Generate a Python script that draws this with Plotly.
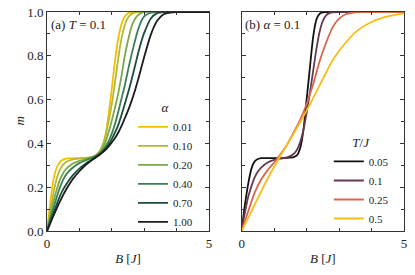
import plotly.graph_objects as go

# ---------------- data ----------------
B_a = [0, 0.1, 0.2, 0.3, 0.4, 0.5, 0.6, 0.8, 1.0, 1.2, 1.4, 1.5, 1.6, 1.7, 1.8, 1.9, 2.0,
       2.1, 2.2, 2.3, 2.4, 2.5, 2.6, 2.7, 2.8, 2.9, 3.0, 3.2, 3.4, 3.6, 3.8, 4.0, 5.0]
alpha_labels = ["0.01", "0.10", "0.20", "0.40", "0.70", "1.00"]
m_a001 = [0, 0.13, 0.235, 0.29, 0.315, 0.326, 0.331, 0.333, 0.333, 0.334, 0.337, 0.343, 0.357,
          0.385, 0.435, 0.53, 0.65, 0.78, 0.88, 0.945, 0.98, 0.995, 0.999, 1, 1, 1, 1, 1, 1, 1, 1, 1, 1]
m_a010 = [0, 0.09, 0.175, 0.24, 0.28, 0.303, 0.316, 0.327, 0.331, 0.334, 0.339, 0.346, 0.36,
          0.385, 0.43, 0.5, 0.58, 0.68, 0.79, 0.88, 0.94, 0.975, 0.99, 0.997, 1, 1, 1, 1, 1, 1, 1, 1, 1]
m_a020 = [0, 0.07, 0.135, 0.19, 0.235, 0.265, 0.285, 0.308, 0.32, 0.328, 0.337, 0.344, 0.355,
          0.375, 0.405, 0.45, 0.505, 0.565, 0.63, 0.71, 0.8, 0.87, 0.93, 0.965, 0.985, 0.995, 1, 1, 1, 1, 1, 1, 1]
m_a040 = [0, 0.055, 0.105, 0.155, 0.2, 0.235, 0.26, 0.29, 0.31, 0.323, 0.336, 0.343, 0.352,
          0.365, 0.385, 0.41, 0.445, 0.49, 0.545, 0.605, 0.665, 0.735, 0.8, 0.86, 0.915, 0.955, 0.98, 0.997, 1, 1, 1, 1, 1]
m_a070 = [0, 0.042, 0.083, 0.122, 0.16, 0.19, 0.215, 0.255, 0.285, 0.308, 0.328, 0.338, 0.348,
          0.36, 0.375, 0.395, 0.42, 0.45, 0.485, 0.53, 0.58, 0.63, 0.685, 0.745, 0.805, 0.86, 0.905, 0.97, 0.995, 1, 1, 1, 1]
m_a100 = [0, 0.035, 0.07, 0.103, 0.135, 0.165, 0.192, 0.238, 0.273, 0.302, 0.325, 0.335, 0.345,
          0.357, 0.37, 0.386, 0.405, 0.425, 0.45, 0.48, 0.515, 0.55, 0.59, 0.635, 0.685, 0.74, 0.795, 0.895, 0.96, 0.99, 0.998, 1, 1]
alpha_colors = ["#f2c000", "#b3b934", "#7aa94a", "#3c7f55", "#1d4c3c", "#1c1c1c"]

T_labels = ["0.05", "0.1", "0.25", "0.5"]
B_b = [0, 0.05, 0.1, 0.2, 0.3, 0.4, 0.5, 0.6, 0.8, 1.0, 1.2, 1.4, 1.6, 1.7, 1.8, 1.9, 2.0,
       2.1, 2.2, 2.3, 2.4, 2.5, 2.6, 2.7, 2.8, 3.0, 4.0, 5.0]
m_T005 = [0, 0.065, 0.12, 0.215, 0.285, 0.318, 0.329, 0.333, 0.333, 0.333, 0.333, 0.334, 0.337,
          0.345, 0.378, 0.46, 0.6, 0.745, 0.885, 0.965, 0.992, 0.999, 1, 1, 1, 1, 1, 1]
m_T010 = [0, 0.045, 0.085, 0.155, 0.205, 0.245, 0.272, 0.29, 0.313, 0.325, 0.331, 0.336, 0.352,
          0.37, 0.405, 0.46, 0.54, 0.63, 0.73, 0.83, 0.91, 0.96, 0.985, 0.995, 0.999, 1, 1, 1]
B_c = [0, 0.2, 0.4, 0.6, 0.8, 1.0, 1.2, 1.4, 1.6, 1.8, 2.0, 2.2, 2.4, 2.6, 2.8, 3.0, 3.2, 3.4, 3.6, 4.0, 5.0]
m_T025 = [0, 0.09, 0.175, 0.235, 0.278, 0.313, 0.352, 0.395, 0.45, 0.508, 0.58, 0.67, 0.775,
          0.86, 0.93, 0.97, 0.99, 0.997, 1, 1, 1]
B_d = [0, 0.4, 0.8, 1.2, 1.6, 2.0, 2.4, 2.8, 3.2, 3.6, 4.0, 4.4, 4.8, 5.0]
m_T050 = [0, 0.12, 0.24, 0.345, 0.445, 0.55, 0.665, 0.78, 0.86, 0.92, 0.955, 0.977, 0.99, 0.994]
T_colors = ["#111111", "#6a3850", "#d6694c", "#f9be16"]

# ---------------- figure ----------------
FONT = "Liberation Serif, Times New Roman, DejaVu Serif, serif"
TXT = "#222222"
fig = go.Figure()

left_series = [m_a001, m_a010, m_a020, m_a040, m_a070, m_a100]
for lab, col, m in zip(alpha_labels, alpha_colors, left_series):
    fig.add_trace(go.Scatter(x=B_a, y=m, mode="lines", name=lab,
                             line=dict(color=col, width=1.8, shape="spline", smoothing=0.6),
                             xaxis="x", yaxis="y", legend="legend", legendgroup=lab))

right_x = [B_b, B_b, B_c, B_d]
right_series = [m_T005, m_T010, m_T025, m_T050]
for lab, col, bx, m in zip(T_labels, T_colors, right_x, right_series):
    fig.add_trace(go.Scatter(x=bx, y=m, mode="lines", name=lab,
                             line=dict(color=col, width=1.8, shape="spline", smoothing=0.6),
                             xaxis="x2", yaxis="y2", legend="legend2", legendgroup="T" + lab))

axis_common = dict(showline=True, linecolor="#333333", linewidth=1, mirror="allticks",
                   ticks="inside", ticklen=4, tickcolor="#333333", tickwidth=1,
                   showgrid=False, zeroline=False, automargin=False,
                   tickfont=dict(family=FONT, size=13, color=TXT))

xa = dict(axis_common, range=[0, 5], tickmode="linear", tick0=0, dtick=5,
          minor=dict(tickmode="linear", tick0=0, dtick=1, ticks="inside", ticklen=3,
                     tickcolor="#333333", showgrid=False),
          title=dict(text="<i>B</i> [<i>J</i>]", font=dict(family=FONT, size=13, color=TXT),
                     standoff=4))
ya = dict(axis_common, range=[0, 1], tickmode="linear", tick0=0, dtick=0.2, tickformat=".1f",
          minor=dict(tickmode="linear", tick0=0, dtick=0.1, ticks="inside", ticklen=3,
                     tickcolor="#333333", showgrid=False))

fig.update_layout(
    width=415, height=275,
    margin=dict(l=0, r=0, t=0, b=0),
    paper_bgcolor="white", plot_bgcolor="white",
    font=dict(family=FONT, size=12, color=TXT),
    xaxis=dict(xa, domain=[0.1133, 0.5036], anchor="y"),
    yaxis=dict(ya, domain=[0.16, 0.956], anchor="x"),
    xaxis2=dict(xa, domain=[0.5824, 0.9735], anchor="y2"),
    yaxis2=dict(ya, domain=[0.16, 0.956], anchor="x2", showticklabels=False),
    legend=dict(x=0.3205, y=0.653, xanchor="left", yanchor="top", bgcolor="rgba(0,0,0,0)",
                font=dict(family=FONT, size=11), itemwidth=30, tracegroupgap=0,
                title=dict(text="<i>α</i>", side="top center", font=dict(family=FONT, size=13))),
    legend2=dict(x=0.7923, y=0.527, xanchor="left", yanchor="top", bgcolor="rgba(0,0,0,0)",
                 font=dict(family=FONT, size=11), itemwidth=30, tracegroupgap=0,
                 title=dict(text="<i>T</i>/<i>J</i>", side="top center", font=dict(family=FONT, size=13))),
    annotations=[
        dict(text="<i>m</i>", xref="paper", yref="y domain", x=20 / 415, y=0.5,
             xanchor="center", yanchor="middle", textangle=-90, showarrow=False,
             font=dict(family=FONT, size=13, color=TXT)),
        dict(text="(a) <i>T</i> = 0.1", xref="x domain", yref="y domain", x=0.01, y=0.985,
             xanchor="left", yanchor="top", showarrow=False, font=dict(family=FONT, size=13)),
        dict(text="(b) <i>α</i> = 0.1", xref="x2 domain", yref="y2 domain", x=0.01, y=0.985,
             xanchor="left", yanchor="top", showarrow=False, font=dict(family=FONT, size=13)),
    ],
)

fig.write_html("out.html", config={"displayModeBar": False},
               post_script="document.body.style.margin='0';")
